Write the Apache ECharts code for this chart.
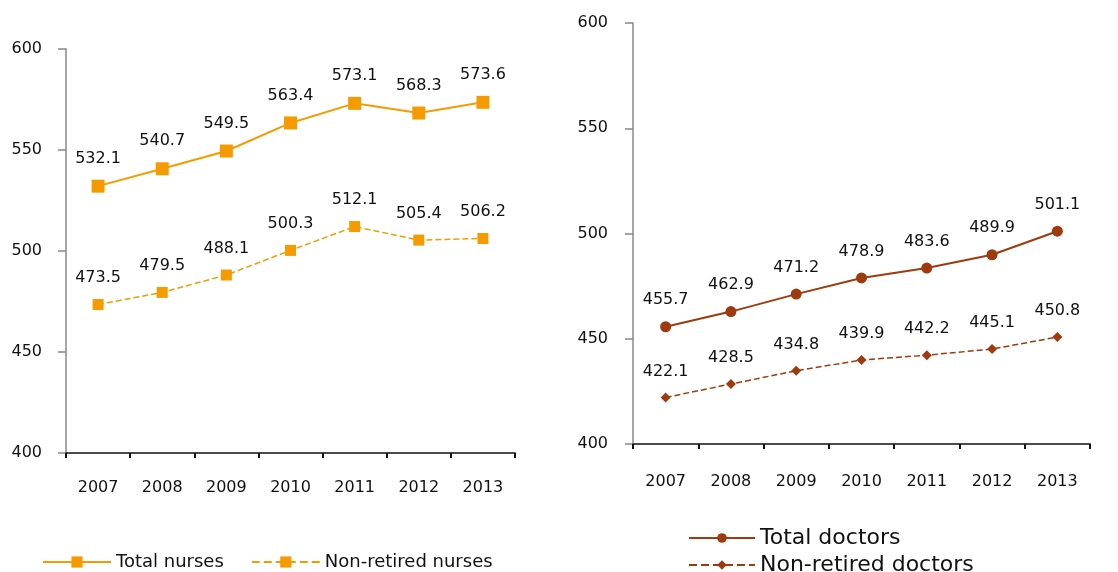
<!DOCTYPE html>
<html>
<head>
<meta charset="utf-8">
<script src="https://cdn.jsdelivr.net/npm/echarts@6/dist/echarts.min.js"></script>
<style>
  html, body { margin: 0; padding: 0; background: #fff; }
  #chart { width: 1118px; height: 572px; }
</style>
</head>
<body>
<div id="chart"></div>
<script>
// data
var years = ['2007', '2008', '2009', '2010', '2011', '2012', '2013']
var totalNurses = [532.1, 540.7, 549.5, 563.4, 573.1, 568.3, 573.6]
var nonRetiredNurses = [473.5, 479.5, 488.1, 500.3, 512.1, 505.4, 506.2]
var totalDoctors = [455.7, 462.9, 471.2, 478.9, 483.6, 489.9, 501.1]
var nonRetiredDoctors = [422.1, 428.5, 434.8, 439.9, 442.2, 445.1, 450.8]

var ORANGE = '#f59b00'
var BROWN = '#9e3a0e'
var FONT = '"DejaVu Sans", Verdana, sans-serif'

var chart = echarts.init(document.getElementById('chart'))

function yAxis (gridIndex, margin) {
  return {
    gridIndex: gridIndex,
    type: 'value',
    min: 400,
    max: 600,
    interval: 50,
    axisLine: { show: true, lineStyle: { color: '#888', width: 1.5 } },
    axisTick: { show: true, length: 8, lineStyle: { color: '#888', width: 1.5 } },
    splitLine: { show: false },
    axisLabel: { margin: margin, color: '#111', fontSize: 16, fontFamily: FONT }
  }
}

function xAxis (gridIndex, margin) {
  return {
    gridIndex: gridIndex,
    type: 'category',
    data: years,
    boundaryGap: true,
    axisLine: { lineStyle: { color: '#111', width: 1.5 } },
    axisTick: { show: true, length: 5, lineStyle: { color: '#111', width: 2 } },
    axisLabel: { margin: margin, color: '#111', fontSize: 16, fontFamily: FONT }
  }
}

function label () {
  return {
    show: true,
    position: 'top',
    distance: 13,
    color: '#111',
    fontSize: 16,
    fontFamily: FONT,
    formatter: function (p) { return p.value.toFixed(1) }
  }
}

chart.setOption({
  animation: false,
  grid: [
    { left: 66, top: 49, width: 449, height: 404 },
    { left: 633, top: 23, width: 457, height: 421 }
  ],
  xAxis: [xAxis(0, 27), xAxis(1, 30)],
  yAxis: [yAxis(0, 24), yAxis(1, 25)],
  legend: [
    {
      left: 42,
      top: 553,
      padding: 0,
      itemWidth: 68,
      itemHeight: 14,
      itemGap: 27,
      textStyle: { fontSize: 18, color: '#111', fontFamily: FONT },
      data: ['Total nurses', 'Non-retired nurses']
    },
    {
      left: 688,
      top: 526,
      height: 70,
      padding: 0,
      orient: 'vertical',
      itemWidth: 66,
      itemHeight: 12,
      itemGap: 3,
      textStyle: { fontSize: 22, lineHeight: 24, color: '#111', fontFamily: FONT },
      data: ['Total doctors', 'Non-retired doctors']
    }
  ],
  series: [
    {
      name: 'Total nurses',
      type: 'line',
      xAxisIndex: 0,
      yAxisIndex: 0,
      data: totalNurses,
      symbol: 'rect',
      symbolSize: 13,
      color: ORANGE,
      lineStyle: { width: 2, color: ORANGE },
      label: label()
    },
    {
      name: 'Non-retired nurses',
      type: 'line',
      xAxisIndex: 0,
      yAxisIndex: 0,
      data: nonRetiredNurses,
      symbol: 'rect',
      symbolSize: 11,
      color: ORANGE,
      lineStyle: { width: 1.5, type: 'dashed', color: ORANGE },
      label: label()
    },
    {
      name: 'Total doctors',
      type: 'line',
      xAxisIndex: 1,
      yAxisIndex: 1,
      data: totalDoctors,
      symbol: 'circle',
      symbolSize: 11,
      color: BROWN,
      lineStyle: { width: 2, color: BROWN },
      label: label()
    },
    {
      name: 'Non-retired doctors',
      type: 'line',
      xAxisIndex: 1,
      yAxisIndex: 1,
      data: nonRetiredDoctors,
      symbol: 'diamond',
      symbolSize: 10,
      color: BROWN,
      lineStyle: { width: 1.5, type: 'dashed', color: BROWN },
      label: label()
    }
  ]
})
</script>
</body>
</html>
